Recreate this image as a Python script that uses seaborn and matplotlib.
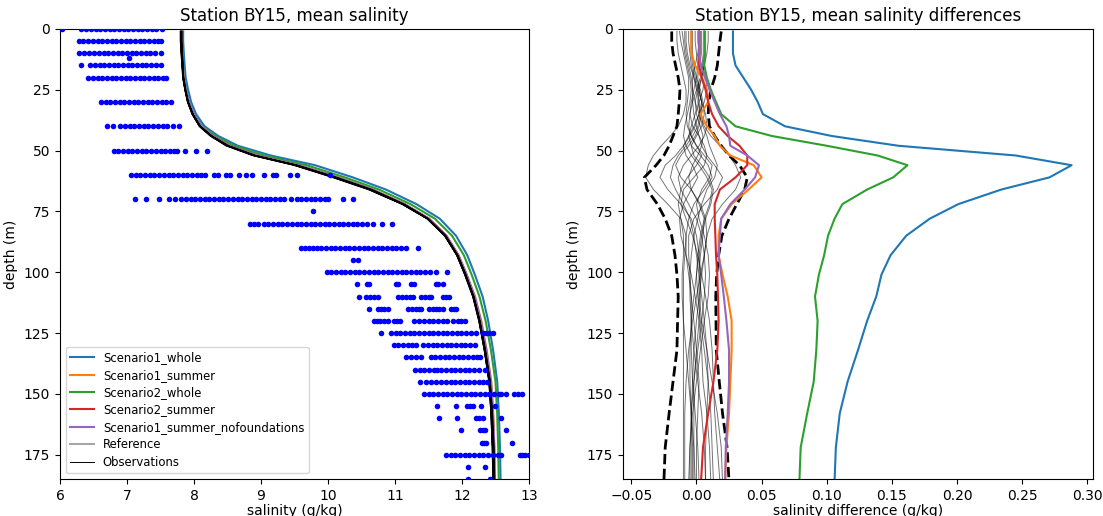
#!/usr/bin/env python
"""Station BY15: mean salinity profiles and scenario differences."""
import matplotlib
matplotlib.use("Agg")
import matplotlib.pyplot as plt
import seaborn as sns
import pandas as pd

# model levels (m)
levels = [1, 5, 10, 15, 20, 25, 30, 35, 40, 44, 48, 52, 56, 61, 66, 72, 78, 85, 93, 101,
          110, 120, 132, 145, 158, 172, 186]

# mean reference salinity profile (g/kg)
ref_salinity = [7.81, 7.81, 7.82, 7.83, 7.84, 7.87, 7.91, 7.98, 8.09, 8.26, 8.50, 8.90, 9.52,
                10.10, 10.63, 11.12, 11.49, 11.75, 11.93, 12.05, 12.17, 12.26, 12.34, 12.41,
                12.44, 12.46, 12.47]

# scenario minus reference (g/kg)
scen1_whole = [0.028, 0.028, 0.028, 0.030, 0.036, 0.042, 0.047, 0.051, 0.068, 0.104, 0.155,
               0.245, 0.288, 0.271, 0.234, 0.201, 0.179, 0.161, 0.149, 0.142, 0.138, 0.131,
               0.124, 0.116, 0.110, 0.107, 0.106]
scen1_summer = [-0.004, -0.004, -0.004, -0.001, 0.004, 0.008, 0.009, 0.003, 0.008, 0.014, 0.018,
                0.026, 0.044, 0.050, 0.040, 0.027, 0.019, 0.017, 0.017, 0.020, 0.024, 0.027,
                0.027, 0.026, 0.025, 0.023, 0.022]
scen2_whole = [0.006, 0.006, 0.006, 0.006, 0.008, 0.011, 0.015, 0.019, 0.030, 0.058, 0.100,
               0.139, 0.162, 0.151, 0.131, 0.112, 0.106, 0.101, 0.098, 0.094, 0.091, 0.093,
               0.092, 0.090, 0.085, 0.080, 0.079]
scen2_summer = [0.002, 0.002, 0.002, 0.002, 0.004, 0.007, 0.009, 0.012, 0.017, 0.024, 0.033,
                0.039, 0.039, 0.030, 0.018, 0.014, 0.014, 0.0145, 0.015, 0.016, 0.0165, 0.017,
                0.016, 0.013, 0.009, 0.005, 0.0035]
scen1_summer_nofound = [0.002, 0.002, 0.002, 0.003, 0.007, 0.010, 0.014, 0.018, 0.023, 0.025,
                        0.026, 0.039, 0.048, 0.045, 0.037, 0.026, 0.019, 0.018, 0.017, 0.019,
                        0.021, 0.023, 0.025, 0.025, 0.024, 0.0225, 0.022]

# variability envelope of the reference run
env_upper = [0.019, 0.018, 0.017, 0.016, 0.014, 0.011, 0.0095, 0.009, 0.010, 0.014, 0.019,
             0.025, 0.033, 0.039, 0.037, 0.031, 0.025, 0.0195, 0.017, 0.0155, 0.0148, 0.015,
             0.0152, 0.0175, 0.020, 0.0235, 0.025]
env_lower = [-0.019, -0.019, -0.018, -0.016, -0.014, -0.0127, -0.0132, -0.014, -0.015, -0.018,
             -0.021, -0.025, -0.031, -0.040, -0.038, -0.030, -0.024, -0.019, -0.0165, -0.015,
             -0.014, -0.0145, -0.015, -0.018, -0.021, -0.024, -0.025]

# yearly runs minus the reference mean
year_runs = [
    [-0.015, -0.015, -0.014, -0.012, -0.010, -0.008, -0.008, -0.010, -0.014, -0.020, -0.027, -0.033, -0.037, -0.039, -0.033, -0.022, -0.012, -0.008, -0.009, -0.010, -0.010, -0.010, -0.010, -0.010, -0.010, -0.010, -0.010],
    [-0.011, -0.010, -0.009, -0.007, -0.005, -0.004, -0.005, -0.007, -0.009, -0.010, -0.008, -0.004, 0.002, 0.008, 0.012, 0.010, 0.006, 0.003, 0.001, 0.000, 0.001, 0.003, 0.006, 0.009, 0.011, 0.012, 0.013],
    [-0.003, -0.003, -0.003, -0.002, 0.000, 0.003, 0.005, 0.006, 0.004, 0.000, -0.004, -0.002, 0.004, 0.010, 0.013, 0.011, 0.007, 0.004, 0.002, 0.000, -0.002, -0.004, -0.005, -0.005, -0.004, -0.003, -0.003],
    [0.001, 0.001, 0.002, 0.004, 0.006, 0.005, 0.002, -0.001, -0.004, -0.006, -0.004, 0.003, 0.009, 0.012, 0.006, -0.002, -0.006, -0.008, -0.008, -0.006, -0.004, -0.002, 0.000, 0.002, 0.001, 0.000, 0.000],
    [0.006, 0.006, 0.006, 0.005, 0.003, 0.000, -0.003, -0.005, -0.006, -0.004, 0.000, 0.006, 0.012, 0.010, 0.004, 0.000, 0.002, 0.006, 0.009, 0.010, 0.009, 0.006, 0.003, 0.000, -0.003, -0.005, -0.006],
    [0.002, 0.002, 0.001, -0.001, -0.003, -0.003, -0.001, 0.002, 0.005, 0.008, 0.010, 0.013, 0.016, 0.014, 0.008, 0.004, 0.001, -0.002, -0.004, -0.005, -0.005, -0.004, -0.002, 0.001, 0.004, 0.006, 0.007],
    [0.003, 0.003, 0.003, 0.002, 0.001, 0.002, 0.004, 0.004, 0.002, -0.001, -0.006, -0.012, -0.016, -0.012, -0.004, 0.003, 0.007, 0.008, 0.006, 0.003, 0.000, -0.003, -0.006, -0.008, -0.009, -0.009, -0.009],
    [0.007, 0.007, 0.007, 0.006, 0.004, 0.001, -0.001, 0.000, 0.003, 0.005, 0.004, 0.001, -0.003, -0.006, -0.004, 0.002, 0.006, 0.005, 0.003, 0.002, 0.002, 0.004, 0.008, 0.012, 0.016, 0.019, 0.020],
    [0.009, 0.009, 0.008, 0.006, 0.004, 0.002, 0.001, 0.003, 0.006, 0.011, 0.018, 0.025, 0.030, 0.034, 0.030, 0.020, 0.012, 0.008, 0.006, 0.004, 0.002, 0.000, -0.002, -0.003, -0.004, -0.004, -0.004],
    [-0.006, -0.006, -0.005, -0.004, -0.002, 0.000, 0.002, 0.003, 0.001, -0.003, -0.008, -0.014, -0.018, -0.020, -0.016, -0.010, -0.005, -0.002, 0.000, 0.002, 0.004, 0.006, 0.008, 0.009, 0.008, 0.007, 0.007],
    [0.004, 0.004, 0.004, 0.005, 0.007, 0.008, 0.006, 0.002, -0.002, -0.006, -0.010, -0.008, -0.003, 0.001, -0.004, -0.010, -0.013, -0.012, -0.008, -0.004, -0.001, 0.002, 0.004, 0.005, 0.008, 0.010, 0.011],
    [-0.008, -0.008, -0.007, -0.005, -0.002, 0.001, 0.004, 0.007, 0.008, 0.006, 0.002, -0.004, -0.010, -0.014, -0.012, -0.006, 0.000, 0.004, 0.006, 0.007, 0.006, 0.004, 0.001, -0.002, -0.004, -0.005, -0.005],
    [-0.001, -0.001, 0.000, 0.001, 0.000, -0.002, -0.004, -0.005, -0.003, 0.002, 0.006, 0.008, 0.006, -0.002, -0.010, -0.012, -0.008, -0.003, 0.001, 0.004, 0.007, 0.010, 0.012, 0.013, 0.014, 0.016, 0.018],
    [-0.013, -0.012, -0.010, -0.008, -0.006, -0.006, -0.007, -0.008, -0.007, -0.004, 0.000, 0.004, 0.000, -0.007, -0.012, -0.014, -0.012, -0.010, -0.010, -0.011, -0.011, -0.010, -0.008, -0.006, -0.004, -0.002, -0.001],
    [-0.004, -0.004, -0.004, -0.003, -0.001, 0.002, 0.004, 0.002, -0.001, -0.005, -0.010, -0.016, -0.024, -0.028, -0.022, -0.012, -0.004, 0.000, 0.002, 0.003, 0.003, 0.002, 0.000, -0.002, -0.002, -0.002, -0.002],
    [-0.009, -0.009, -0.008, -0.006, -0.004, -0.003, -0.003, -0.002, 0.000, 0.002, 0.004, 0.008, 0.014, 0.020, 0.016, 0.006, -0.002, -0.006, -0.006, -0.005, -0.004, -0.004, -0.004, -0.003, -0.001, 0.001, 0.002],
]

# CTD casts: salinity samples per depth
obs_0 = [6.03, 6.32, 6.39, 6.46, 6.53, 6.60, 6.67, 6.74, 6.81, 6.88, 6.95, 7.02, 7.09, 7.16, 7.23, 7.30, 7.37, 7.44, 7.52]
obs_5 = [6.28, 6.35, 6.42, 6.49, 6.56, 6.63, 6.70, 6.77, 6.84, 6.91, 6.98, 7.05, 7.12, 7.19, 7.26, 7.33, 7.40, 7.46, 7.50]
obs_10 = [6.29, 6.36, 6.43, 6.51, 6.58, 6.65, 6.72, 6.79, 6.86, 6.93, 7.00, 7.07, 7.14, 7.21, 7.28, 7.35, 7.42, 7.50]
obs_12 = [7.03]
obs_15 = [6.31, 6.45, 6.52, 6.59, 6.66, 6.73, 6.80, 6.87, 6.94, 7.01, 7.08, 7.15, 7.22, 7.29, 7.36, 7.43, 7.50]
obs_20 = [6.42, 6.49, 6.56, 6.63, 6.70, 6.77, 6.84, 6.91, 6.98, 7.05, 7.12, 7.19, 7.26, 7.33, 7.40, 7.47, 7.53, 7.58]
obs_30 = [6.61, 6.68, 6.75, 6.82, 6.89, 6.96, 7.03, 7.10, 7.17, 7.24, 7.31, 7.38, 7.45, 7.52, 7.58, 7.65]
obs_40 = [6.70, 6.79, 6.90, 6.97, 7.04, 7.11, 7.18, 7.25, 7.32, 7.39, 7.46, 7.53, 7.59, 7.68, 7.78]
obs_50 = [6.80, 6.87, 6.94, 7.01, 7.08, 7.15, 7.22, 7.29, 7.36, 7.43, 7.50, 7.57, 7.64, 7.70, 7.74, 7.87, 8.03, 8.20]
obs_60 = [7.06, 7.13, 7.20, 7.27, 7.34, 7.41, 7.48, 7.55, 7.62, 7.69, 7.76, 7.83, 7.90, 7.97, 8.04, 8.10,
          8.17, 8.30, 8.36, 8.48, 8.53, 8.67, 8.78, 8.86, 9.04, 9.18, 9.23, 9.44, 9.54, 10.03]
obs_70 = [7.12, 7.28, 7.48, 7.62, 7.72, 7.81, 7.88, 7.95, 8.02, 8.09, 8.16, 8.23, 8.30, 8.37, 8.44, 8.51,
          8.58, 8.65, 8.72, 8.79, 8.86, 8.93, 9.00, 9.07, 9.14, 9.21, 9.28, 9.35, 9.45, 9.53, 9.60,
          9.67, 9.74, 9.81, 9.88, 9.95, 10.00, 10.22, 10.37]
obs_75 = [9.78]
obs_80 = [8.84, 8.90, 8.96, 9.04, 9.11, 9.18, 9.25, 9.32, 9.39, 9.46, 9.53, 9.60, 9.67, 9.74, 9.81, 9.88,
          9.95, 10.02, 10.09, 10.16, 10.23, 10.30, 10.37, 10.44, 10.51, 10.58, 10.67, 10.80, 10.96]
obs_90 = [9.59, 9.65, 9.72, 9.78, 9.83, 9.90, 9.97, 10.04, 10.11, 10.18, 10.25, 10.32, 10.39, 10.46,
          10.53, 10.60, 10.67, 10.74, 10.81, 10.88, 10.95, 11.02, 11.09, 11.17, 11.34]
obs_95 = [10.37, 10.45]
obs_100 = [9.98, 10.05, 10.12, 10.19, 10.26, 10.33, 10.40, 10.47, 10.54, 10.61, 10.68, 10.75, 10.82,
           10.89, 10.96, 11.03, 11.10, 11.17, 11.24, 11.31, 11.38, 11.45, 11.52, 11.61, 11.78]
obs_105 = [10.44, 10.58, 10.61, 11.02, 11.05, 11.24, 11.29, 11.61, 11.64, 11.72]
obs_110 = [10.47, 10.57, 10.62, 10.68, 10.74, 11.04, 11.10, 11.16, 11.22, 11.27, 11.39, 11.45, 11.50,
           11.54, 11.71, 11.76, 11.81]
obs_115 = [10.61, 10.74, 10.79, 10.84, 10.89, 11.19, 11.25, 11.31, 11.36, 11.39, 11.51, 11.56, 11.61,
           11.66, 11.71, 11.84, 11.88, 11.91]
obs_120 = [10.68, 10.73, 10.78, 10.84, 10.89, 10.99, 11.03, 11.07, 11.29, 11.36, 11.43, 11.50, 11.57,
           11.64, 11.71, 11.78, 11.86, 11.94, 11.99, 12.04]
obs_125 = [10.79, 10.94, 11.01, 11.08, 11.15, 11.22, 11.29, 11.36, 11.43, 11.50, 11.57, 11.64, 11.71,
           11.78, 11.85, 11.92, 11.99, 12.06, 12.13, 12.21, 12.31, 12.36, 12.41, 12.46]
obs_130 = [10.98, 11.05, 11.12, 11.19, 11.26, 11.32, 11.42, 11.49, 11.56, 11.63, 11.70, 11.77, 11.84,
           11.91, 11.98, 12.05, 12.12, 12.19]
obs_135 = [11.17, 11.24, 11.31, 11.39, 11.53, 11.60, 11.67, 11.74, 11.81, 11.88, 11.95, 12.02, 12.09,
           12.16, 12.22, 12.27]
obs_140 = [11.30, 11.37, 11.44, 11.51, 11.58, 11.62, 11.69, 11.76, 11.83, 11.90, 11.97, 12.04, 12.11,
           12.18, 12.25, 12.34]
obs_145 = [11.37, 11.47, 11.54, 11.61, 11.69, 11.76, 11.83, 11.90, 11.97, 12.04, 12.11, 12.18, 12.25,
           12.32, 12.38]
obs_150 = [11.43, 11.50, 11.57, 11.64, 11.71, 11.78, 11.85, 11.92, 11.99, 12.06, 12.13, 12.20, 12.27,
           12.34, 12.41, 12.48, 12.55, 12.58, 12.66, 12.78, 12.84, 12.90]
obs_155 = [11.63, 11.91, 12.08, 12.12, 12.17, 12.29, 12.49]
obs_160 = [11.65, 11.93, 12.21, 12.26, 12.31, 12.58]
obs_165 = [11.99, 12.27, 12.31, 12.34, 12.66]
obs_170 = [12.30, 12.33, 12.36, 12.75]
obs_175 = [11.76, 11.83, 11.90, 11.97, 12.04, 12.11, 12.18, 12.25, 12.32, 12.39, 12.46, 12.53, 12.58,
           12.86, 12.90, 12.94, 13.00]
obs_180 = [12.09, 12.35]
obs_185 = [12.09, 12.42]

obs_rows = [(0, obs_0), (5, obs_5), (10, obs_10), (12, obs_12), (15, obs_15), (20, obs_20),
            (30, obs_30), (40, obs_40), (50, obs_50), (60, obs_60), (70, obs_70), (75, obs_75),
            (80, obs_80), (90, obs_90), (95, obs_95), (100, obs_100), (105, obs_105),
            (110, obs_110), (115, obs_115), (120, obs_120), (125, obs_125), (130, obs_130),
            (135, obs_135), (140, obs_140), (145, obs_145), (150, obs_150), (155, obs_155),
            (160, obs_160), (165, obs_165), (170, obs_170), (175, obs_175), (180, obs_180),
            (185, obs_185)]

scenarios = [
    ("Scenario1_whole", scen1_whole, "#1f77b4"),
    ("Scenario1_summer", scen1_summer, "#ff7f0e"),
    ("Scenario2_whole", scen2_whole, "#2ca02c"),
    ("Scenario2_summer", scen2_summer, "#d62728"),
    ("Scenario1_summer_nofoundations", scen1_summer_nofound, "#9467bd"),
]


def profile(ax, x, label=None, **kw):
    sns.lineplot(x=x, y=levels, orient="y", estimator=None, ax=ax, label=label, **kw)


def main() -> None:
    obs = pd.DataFrame([(d, s) for d, row in obs_rows for s in row], columns=["depth", "salinity"])

    fig = plt.figure(figsize=(11.03, 5.16), dpi=100)
    ax1 = fig.add_axes([60 / 1103, 37 / 516, 469 / 1103, 450 / 516])
    ax2 = fig.add_axes([623 / 1103, 37 / 516, 470 / 1103, 450 / 516])

    # left: absolute profiles
    for name, diff, col in scenarios:
        profile(ax1, [r + d for r, d in zip(ref_salinity, diff)], label=name, color=col, lw=1.5)
    profile(ax1, ref_salinity, label="Reference", color="gray", lw=1.5, alpha=0.7)
    for i, run in enumerate(year_runs):
        profile(ax1, [r + d for r, d in zip(ref_salinity, run)],
                label="Observations" if i == 0 else None, color="k", lw=0.7)
    sns.scatterplot(data=obs, x="salinity", y="depth", color="blue", s=16, linewidth=0,
                    ax=ax1, zorder=5)
    ax1.set_xlim(6, 13)
    ax1.set_ylim(185, 0)
    ax1.set_xlabel("salinity (g/kg)", labelpad=1)
    ax1.set_ylabel("depth (m)")
    ax1.set_title("Station BY15, mean salinity")
    ax1.legend(loc="lower left", fontsize="small", labelspacing=0.38)

    # right: differences against the reference mean
    for run in year_runs:
        profile(ax2, run, color="k", lw=0.7, alpha=0.55)
    profile(ax2, env_upper, color="k", lw=2, linestyle="--")
    profile(ax2, env_lower, color="k", lw=2, linestyle="--")
    for name, diff, col in scenarios:
        profile(ax2, diff, color=col, lw=1.5)
    ax2.set_ylim(185, 0)
    ax2.set_xlabel("salinity difference (g/kg)", labelpad=1)
    ax2.set_ylabel("depth (m)")
    ax2.set_title("Station BY15, mean salinity differences")
    if ax2.get_legend() is not None:
        ax2.get_legend().remove()

    fig.savefig("out.png", dpi=100)
    plt.close(fig)


if __name__ == "__main__":
    main()
